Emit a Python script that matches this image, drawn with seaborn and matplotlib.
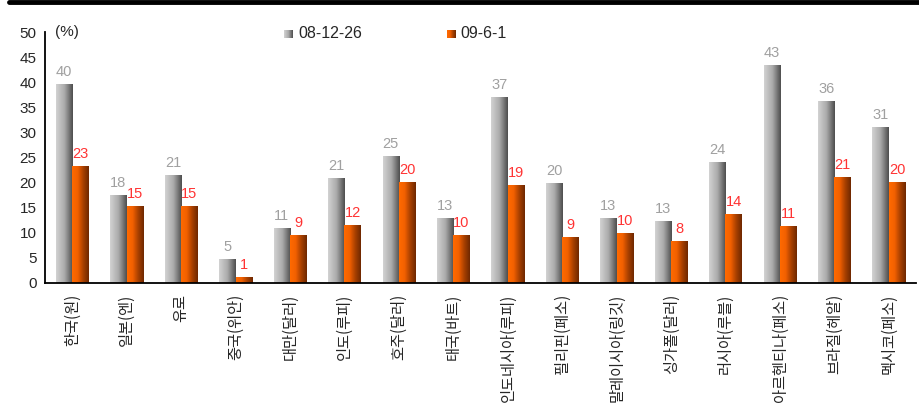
import numpy as np
import pandas as pd
import seaborn as sns
import matplotlib.pyplot as plt
from matplotlib.colors import LinearSegmentedColormap

# data
categories = ["한국(원)", "일본(엔)", "유로", "중국(위안)", "대만(달러)", "인도(루피)",
              "호주(달러)", "태국(바트)", "인도네시아(루피)", "필리핀(페소)",
              "말레이시아(링깃)", "싱가폴(달러)", "러시아(루블)", "아르헨티나(페소)",
              "브라질(헤알)", "멕시코(페소)"]
series_names = ["08-12-26", "09-6-1"]
values_dec = [39.6, 17.5, 21.4, 4.7, 10.8, 20.8, 25.2, 12.9, 37.0, 19.8, 12.9, 12.3, 24.0, 43.4, 36.2, 31.0]
values_jun = [23.2, 15.3, 15.3, 1.1, 9.4, 11.5, 20.0, 9.4, 19.4, 9.0, 9.8, 8.2, 13.7, 11.3, 21.0, 20.0]
labels_dec = [40, 18, 21, 5, 11, 21, 25, 13, 37, 20, 13, 13, 24, 43, 36, 31]
labels_jun = [23, 15, 15, 1, 9, 12, 20, 10, 19, 9, 10, 8, 14, 11, 21, 20]

df = pd.DataFrame({
    "category": categories * 2,
    "series": [series_names[0]] * len(categories) + [series_names[1]] * len(categories),
    "value": values_dec + values_jun,
})

sns.set_style("white")
plt.rcParams["font.family"] = ["Noto Sans CJK KR", "DejaVu Sans"]
latin = ["Liberation Sans", "DejaVu Sans"]

gray_cmap = LinearSegmentedColormap.from_list("g", ["#d2d2d2", "#ababab", "#4e4e4e"])
orange_cmap = LinearSegmentedColormap.from_list("o", ["#ff6a00", "#f26000", "#a84000", "#6e2800"])
cmaps = {series_names[0]: gray_cmap, series_names[1]: orange_cmap}

fig = plt.figure(figsize=(9.19, 4.16), dpi=100)
ax = fig.add_axes([45 / 919, 1 - 283 / 416, 871 / 919, 251 / 416])

sns.barplot(data=df, x="category", y="value", hue="series", order=categories,
            hue_order=series_names, width=0.6, palette=["#999999", "#ff6600"],
            ax=ax, legend=False, saturation=1)

grad = np.linspace(0, 1, 64).reshape(1, -1)
for container, name, labs, col in zip(ax.containers, series_names,
                                      [labels_dec, labels_jun], ["#a0a0a0", "#ff3333"]):
    for bar, lab in zip(container, labs):
        x0, y0 = bar.get_x(), bar.get_y()
        w, h = bar.get_width(), bar.get_height()
        bar.set_facecolor("none")
        bar.set_edgecolor("none")
        ax.imshow(grad, cmap=cmaps[name], aspect="auto",
                  extent=[x0, x0 + w, y0, y0 + h], zorder=2)
        ax.annotate(str(lab), (x0 + w / 2, y0 + h), xytext=(0, 4),
                    textcoords="offset points", ha="center", va="bottom",
                    color=col, fontsize=10.5, family=latin)

ax.set_xlim(-0.5, len(categories) - 0.5)
ax.set_ylim(0, 50)
ax.set_yticks(range(0, 51, 5))
ax.set_xlabel("")
ax.set_ylabel("")
ax.tick_params(axis="y", direction="in", length=4, width=1.2, labelsize=11, pad=6)
ax.set_xticks(range(len(categories)))
ax.set_xticklabels(categories, rotation=90, va="top", ha="center", fontsize=11)
ax.tick_params(axis="x", which="major", length=0, pad=8)
ax.set_xticks(np.arange(-0.5, len(categories), 1), minor=True)
ax.tick_params(axis="x", which="minor", direction="inout", length=8, width=1.2)
for lbl in ax.get_yticklabels():
    lbl.set_family(latin)
sns.despine(ax=ax)
for side in ["left", "bottom"]:
    ax.spines[side].set_linewidth(1.3)
    ax.spines[side].set_color("black")

ax.text(0.012, 1.0, "(%)", transform=ax.transAxes, fontsize=11, va="center",
        ha="left", family=latin)

# legend with gradient squares
for name, px, tx in [(series_names[0], 284, 298), (series_names[1], 447, 460)]:
    lax = fig.add_axes([px / 919, 1 - 38 / 416, 9 / 919, 8 / 416])
    lax.imshow(grad, cmap=cmaps[name], aspect="auto")
    lax.axis("off")
    fig.text(tx / 919, 1 - 34 / 416, name, fontsize=11.5, va="center", ha="left",
             family=latin)

# thick top border
fig.add_artist(plt.Line2D([9 / 919, 1], [1 - 1.5 / 416, 1 - 1.5 / 416], color="black",
                          linewidth=3.5, transform=fig.transFigure))

fig.savefig("out.png", dpi=100)
